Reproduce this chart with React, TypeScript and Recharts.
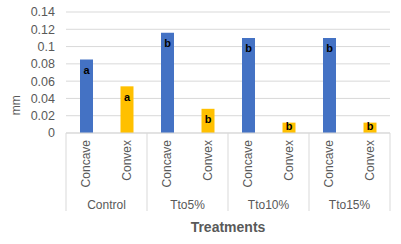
import React from "react";
import {
  BarChart,
  Bar,
  Cell,
  XAxis,
  YAxis,
  CartesianGrid,
  LabelList,
  Label,
} from "recharts";

// --- data ---
const groups = ["Control", "Tto5%", "Tto10%", "Tto15%"];
const subLabels = ["Concave", "Convex"];
const concaveValues = [0.085, 0.116, 0.11, 0.11];
const convexValues = [0.054, 0.028, 0.012, 0.012];
const concaveLetters = ["a", "b", "b", "b"];
const convexLetters = ["a", "b", "b", "b"];
const yTicks = [0, 0.02, 0.04, 0.06, 0.08, 0.1, 0.12, 0.14];

const BLUE = "#4472C4";
const YELLOW = "#FFC000";
const GRID = "#D9D9D9";
const TEXT = "#595959";
const FONT = "Arial, 'Liberation Sans', sans-serif";

const SUB_AXIS_H = 62;
const SEP_BOTTOM = 78; // separator length below the axis line

const rows = groups.flatMap((g, i) => [
  { sub: subLabels[0], group: g, value: concaveValues[i], letter: concaveLetters[i], kind: "concave" },
  { sub: subLabels[1], group: g, value: convexValues[i], letter: convexLetters[i], kind: "convex" },
]);

const SubTick = (props: any) => {
  const { x, y, payload } = props;
  return (
    <text
      x={x}
      y={y}
      transform={`rotate(-90, ${x}, ${y})`}
      textAnchor="end"
      dy="0.35em"
      fontSize={12}
      fontFamily={FONT}
      fill={TEXT}
    >
      {payload.value}
    </text>
  );
};

const GroupTick = (props: any) => {
  const { x, y, payload, index, visibleTicksCount } = props;
  const half = payload.offset ?? 40.5;
  const axisTop = y - 8 - SUB_AXIS_H; // y = axis top + tickSize + tickMargin
  const lines = [x - half];
  if (index === visibleTicksCount - 1) lines.push(x + half);
  return (
    <g>
      {lines.map((lx, i) => (
        <line key={i} x1={lx} x2={lx} y1={axisTop} y2={axisTop + SEP_BOTTOM} stroke={GRID} strokeWidth={1} />
      ))}
      <text x={x} y={y + 2} dy="0.35em" textAnchor="middle" fontSize={12} fontFamily={FONT} fill={TEXT}>
        {payload.value}
      </text>
    </g>
  );
};

const LetterLabel = (props: any) => {
  const { x, y, width, height, value } = props;
  const base = Math.min(y + 14.5, y + height - 3);
  return (
    <text x={x + width / 2} y={base} textAnchor="middle" fontSize={11} fontWeight="bold" fontFamily={FONT} fill="#000">
      {value}
    </text>
  );
};

const YTitle = (props: any) => {
  const { viewBox } = props;
  const cy = viewBox.y + viewBox.height * 0.77;
  return (
    <text
      x={16}
      y={cy}
      transform={`rotate(-90, 16, ${cy})`}
      textAnchor="middle"
      dy="0.35em"
      fontSize={12}
      fontFamily={FONT}
      fill={TEXT}
    >
      mm
    </text>
  );
};

export default function App() {
  return (
    <div style={{ position: "absolute", left: 0, top: 0, width: 401, height: 244, background: "#fff" }}>
      <BarChart
        width={401}
        height={244}
        data={rows}
        margin={{ top: 12, right: 11, left: 0, bottom: 0 }}
        style={{ fontFamily: FONT }}
      >
        <CartesianGrid vertical={false} stroke={GRID} />
        <XAxis
          dataKey="sub"
          height={SUB_AXIS_H}
          tick={<SubTick />}
          tickLine={false}
          axisLine={{ stroke: GRID }}
          interval={0}
          tickMargin={1}
        />
        <XAxis
          xAxisId="grp"
          dataKey="group"
          allowDuplicatedCategory={false}
          height={49}
          tick={<GroupTick />}
          tickLine={false}
          axisLine={false}
          interval={0}
        >
          <Label
            value="Treatments"
            position="insideBottom"
            offset={12}
            fontSize={14}
            fontWeight="bold"
            fontFamily={FONT}
            fill={TEXT}
          />
        </XAxis>
        <YAxis
          width={66}
          domain={[0, 0.14]}
          ticks={yTicks}
          interval={0}
          tickFormatter={(v: number) => String(v)}
          tick={{ fontSize: 12.5, fill: TEXT, fontFamily: FONT }}
          tickLine={false}
          axisLine={false}
          tickMargin={5}
        >
          <Label content={<YTitle />} />
        </YAxis>
        <Bar dataKey="value" barSize={13} isAnimationActive={false}>
          {rows.map((r, i) => (
            <Cell key={i} fill={r.kind === "concave" ? BLUE : YELLOW} />
          ))}
          <LabelList dataKey="letter" content={<LetterLabel />} />
        </Bar>
      </BarChart>
    </div>
  );
}
